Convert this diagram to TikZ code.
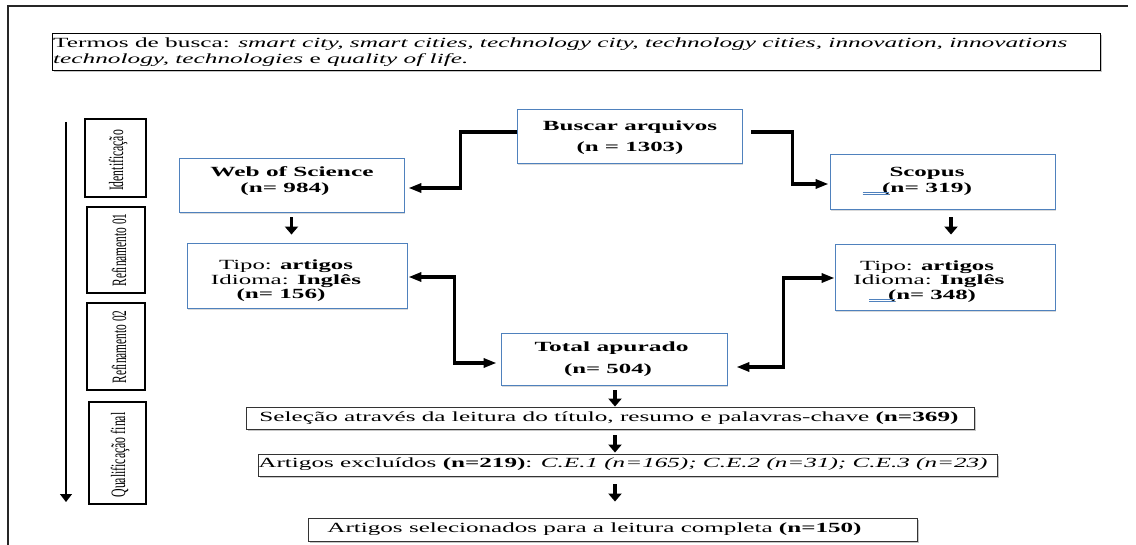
\documentclass[tikz,border=0pt]{standalone}
\usepackage{fontspec}
\setmainfont{Liberation Serif}
\usepackage{graphicx}
\usetikzlibrary{arrows.meta,shadows,calc}
\newcommand{\sw}[2]{\resizebox{#1}{\height}{#2}}
\newcommand{\sv}[2]{\resizebox{#1}{1.7\height}{#2}}
\definecolor{boxblue}{RGB}{79,129,189}
\begin{document}
\begin{tikzpicture}[x=1pt,y=-1pt,
  bluebox/.style={draw=boxblue, line width=0.9pt, fill=white, inner sep=0pt,
    drop shadow={shadow xshift=1.2pt,shadow yshift=-2.2pt,opacity=0.3}},
  graybox/.style={draw=black!80, line width=0.9pt, fill=white, inner sep=0pt,
    drop shadow={shadow xshift=1.5pt,shadow yshift=-2pt,opacity=0.45}},
  stagebox/.style={draw=black, line width=1.1pt, inner sep=0pt},
  txt/.style={font=\fontsize{14}{16}\selectfont, align=center, inner sep=0pt},
  stagetxt/.style={font=\fontsize{12}{14}\selectfont, rotate=90, inner sep=0pt},
  hhead/.tip={Triangle[length=13pt,width=9pt]},
  vhead/.tip={Triangle[length=8pt,width=13pt]},
  hconn/.style={line width=3.2pt, -hhead},
  vconn/.style={line width=3.5pt, -vhead},
  dconn/.style={line width=3.2pt, hhead-hhead},
  ul/.style={draw=boxblue, line width=0.6pt}
]
\useasboundingbox (0,0) rectangle (1136,545);
% outer frame
\draw[line width=1.3pt, black!85] (8,545) -- (8,6) -- (1128,6);

% search terms
\node[graybox, draw=black, minimum width=1048pt, minimum height=37pt] (termos) at (576,51.5) {};
\node[txt, anchor=west] (termost) at (53,52.5) {\fontsize{14}{17}\selectfont\resizebox{1014pt}{\height}{\begin{tabular}{@{}l@{}}Termos de busca: \textit{smart city, smart cities, technology city, technology cities, innovation, innovations}\\[-1pt]\textit{technology, technologies} e \textit{quality of life.}\end{tabular}}};

% stage boxes
\node[stagebox, minimum width=61pt, minimum height=78pt] (s1) at (115.5,158) {};
\node[stagebox, minimum width=58pt, minimum height=86pt] (s2) at (116,250) {};
\node[stagebox, minimum width=58pt, minimum height=87pt] (s3) at (116,346.5) {};
\node[stagebox, minimum width=57pt, minimum height=102pt] (s4) at (117.5,453) {};
\node[stagetxt] (s1t) at (118,160.5) {\sv{61pt}{Identificação}};
\node[stagetxt] (s2t) at (119,250) {\sv{73pt}{Refinamento 01}};
\node[stagetxt] (s3t) at (119,347) {\sv{73pt}{Refinamento 02}};
\node[stagetxt] (s4t) at (120,455) {\sv{85pt}{Qualificação final}};
\coordinate (vtop) at (66,122);
\coordinate (vbot) at (66,502);
\draw[line width=1.2pt, -{Triangle[length=8pt,width=12pt]}] (vtop) -- (vbot);

% flow boxes
\node[bluebox, minimum width=225pt, minimum height=54pt] (busca) at (629.5,136) {};
\node[bluebox, minimum width=225pt, minimum height=54pt] (wos) at (291.5,185) {};
\node[bluebox, minimum width=225pt, minimum height=55pt] (scopus) at (942.5,181.5) {};
\node[bluebox, minimum width=220pt, minimum height=65pt] (tipoL) at (297,275.5) {};
\node[bluebox, minimum width=220pt, minimum height=66pt] (tipoR) at (945,277) {};
\node[bluebox, minimum width=226pt, minimum height=52pt] (total) at (614,359) {};
\node[graybox, minimum width=728pt, minimum height=22pt] (sel) at (610,418) {};
\node[graybox, minimum width=739pt, minimum height=22pt] (excl) at (627.5,465) {};
\node[graybox, minimum width=609pt, minimum height=23pt] (final) at (612.5,529.5) {};

% texts
\node[txt, font=\fontsize{14}{21}\selectfont] (buscat) at (630,138) {\sw{174pt}{\textbf{Buscar arquivos}}\\\sw{107pt}{\textbf{(n = 1303)}}};
\node[txt] (wost) at (292,181.5) {\sw{163pt}{\textbf{Web of Science}}\\\hspace*{-14pt}\sw{89pt}{\textbf{(n= 984)}}};
\node[txt] (scopust) at (927,181.5) {\sw{75pt}{\textbf{Scopus}}\\\sw{90pt}{\textbf{(n= 319)}}};
\node[txt, font=\fontsize{14}{14.5}\selectfont] (tipoLt) at (286,281) {\sw{134pt}{Tipo: \textbf{artigos}}\\\sw{150pt}{Idioma: \textbf{Inglês}}\\\hspace*{-10pt}\sw{89pt}{\textbf{(n= 156)}}};
\node[txt, font=\fontsize{14}{14.5}\selectfont] (tipoRt) at (929,281.5) {\hspace*{-4pt}\sw{134pt}{Tipo: \textbf{artigos}}\\\sw{151pt}{Idioma: \textbf{Inglês}}\\\hspace*{6pt}\sw{88pt}{\textbf{(n= 348)}}};
\node[txt, font=\fontsize{14}{22}\selectfont] (totalt) at (608,359) {\hspace*{7pt}\sw{154pt}{\textbf{Total apurado}}\\\sw{88pt}{\textbf{(n= 504)}}};
\node[txt] (selt) at (609,418.5) {\sw{699pt}{Seleção através da leitura do título, resumo e palavras-chave \textbf{(n=369)}}};
\node[txt] (exclt) at (623,464.5) {\sw{729pt}{Artigos excluídos \textbf{(n=219)}: \textit{C.E.1 (n=165); C.E.2 (n=31); C.E.3 (n=23)}}};
\node[txt] (finalt) at (594.5,529.5) {\sw{534pt}{Artigos selecionados para a leitura completa \textbf{(n=150)}}};

% spell-check marks
\draw[ul] (862.5,192.3) -- (889,192.3) (862.5,194.5) -- (889,194.5);
\draw[ul] (869,299.3) -- (895,299.3) (869,301.5) -- (895,301.5);

% connectors
\draw[hconn, shorten >=4pt] ([yshift=4pt]busca.west) -- ++(-56,0) |- ([yshift=-3pt]wos.east);
\draw[hconn, shorten >=1pt] ([xshift=9pt,yshift=4pt]busca.east) -- ++(41,0) |- ([yshift=-2.5pt]scopus.west);
\draw[vconn, shorten <=5pt, shorten >=8pt] (wos.south) -- (wos.south |- tipoL.north);
\draw[vconn, shorten <=8pt, shorten >=9pt] ([xshift=8.5pt]scopus.south) -- ([xshift=8.5pt]scopus.south |- tipoR.north);
\draw[dconn, shorten <=1pt, shorten >=4pt] ([yshift=-1.5pt]tipoL.east) -- ++(47,0) |- ([yshift=-4pt]total.west);
\draw[dconn, shorten >=0pt] ([yshift=-1pt]tipoR.west) -- ++(-51,0) |- ([xshift=9pt,yshift=-8pt]total.east);
\draw[vconn, shorten <=5pt] ([xshift=1pt]total.south) -- ([xshift=1pt]total.south |- sel.north);
\draw[vconn, shorten <=6pt, shorten >=1pt] ([xshift=1pt]total.south |- sel.south) -- ([xshift=1pt]total.south |- excl.north);
\draw[vconn, shorten <=8pt, shorten >=16pt] ([xshift=1pt]total.south |- excl.south) -- ([xshift=1pt]total.south |- final.north);
\end{tikzpicture}
\end{document}
